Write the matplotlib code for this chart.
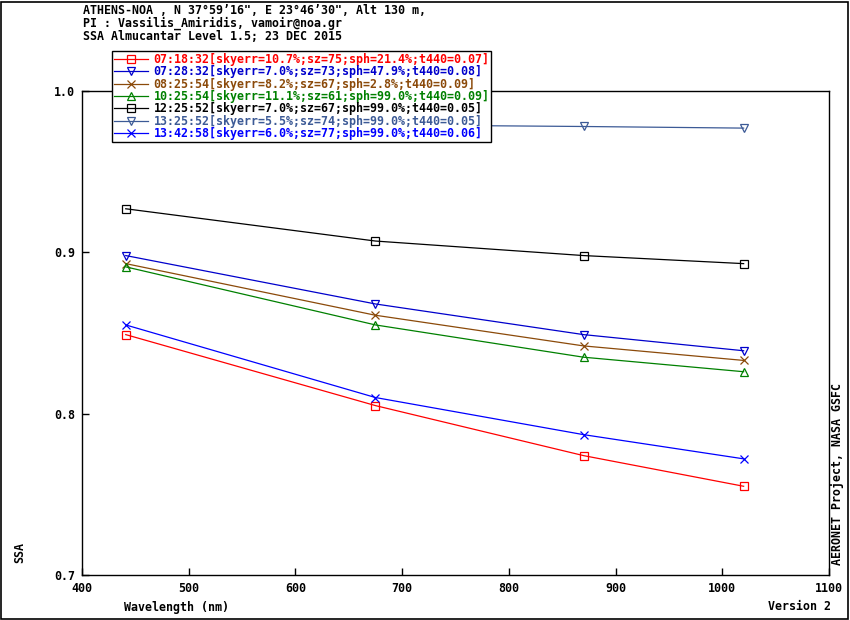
import matplotlib
matplotlib.use("Agg")
from matplotlib import pyplot as plt
from matplotlib.patches import Rectangle

plt.rcParams['font.family'] = ['DejaVu Sans Mono']
plt.rcParams['font.weight'] = 'bold'
plt.rcParams['font.size'] = 8.4

"""
Data read off the reference
"""
wavelength = [441, 675, 870, 1020]

labels = [
    "07:18:32[skyerr=10.7%;sz=75;sph=21.4%;t440=0.07]",
    "07:28:32[skyerr=7.0%;sz=73;sph=47.9%;t440=0.08]",
    "08:25:54[skyerr=8.2%;sz=67;sph=2.8%;t440=0.09]",
    "10:25:54[skyerr=11.1%;sz=61;sph=99.0%;t440=0.09]",
    "12:25:52[skyerr=7.0%;sz=67;sph=99.0%;t440=0.05]",
    "13:25:52[skyerr=5.5%;sz=74;sph=99.0%;t440=0.05]",
    "13:42:58[skyerr=6.0%;sz=77;sph=99.0%;t440=0.06]",
]

ssa_0718 = [0.849, 0.805, 0.774, 0.755]
ssa_0728 = [0.898, 0.868, 0.849, 0.839]
ssa_0825 = [0.893, 0.861, 0.842, 0.833]
ssa_1025 = [0.891, 0.855, 0.835, 0.826]
ssa_1225 = [0.927, 0.907, 0.898, 0.893]
ssa_1325 = [0.980, 0.979, 0.978, 0.977]
ssa_1342 = [0.855, 0.810, 0.787, 0.772]

series = [ssa_0718, ssa_0728, ssa_0825, ssa_1025, ssa_1225, ssa_1325, ssa_1342]
colors = ['#ff0000', '#0000cc', '#8b4a0a', '#008000', '#000000', '#3c5a96', '#0000ff']
markers = ['s', 'v', 'x', '^', 's', 'v', 'x']

"""
Plotting
"""
fig = plt.figure(figsize=(8.5, 6.2), dpi=100)
ax = fig.add_axes([82/850, 45/620, 747/850, 484/620])

for vals, lab, c, m in zip(series, labels, colors, markers):
    ax.plot(wavelength, vals, color=c, lw=0.9, marker=m, markersize=6,
            markerfacecolor='none', markeredgecolor=c, markeredgewidth=0.9,
            label=lab)

ax.set_xlim(400, 1100)
ax.set_ylim(0.7, 1.0)
ax.set_xticks(range(400, 1101, 100))
ax.set_yticks([0.7, 0.8, 0.9, 1.0])
ax.set_yticklabels(['0.7', '0.8', '0.9', '1.0'])
ax.tick_params(direction='in', length=5, width=1, top=False, right=False, pad=5)
for s in ax.spines.values():
    s.set_linewidth(1)

leg = ax.legend(loc='upper left', bbox_to_anchor=(112/850, 1 - 51/620),
                bbox_transform=fig.transFigure, borderaxespad=0,
                fancybox=False, framealpha=1, edgecolor='black',
                labelcolor='linecolor', borderpad=0.15, labelspacing=-0.05,
                handlelength=2.9, handletextpad=0.5)
leg.get_frame().set_linewidth(1)

fig.text(83/850, 1 - 10/620, 'ATHENS-NOA , N 37°59’16", E 23°46’30", Alt 130 m,', va='center')
fig.text(83/850, 1 - 23/620, 'PI : Vassilis_Amiridis, vamoir@noa.gr', va='center')
fig.text(83/850, 1 - 36/620, 'SSA Almucantar Level 1.5; 23 DEC 2015', va='center')

fig.text(124/850, 1 - 607/620, 'Wavelength (nm)', va='center')
fig.text(831/850, 1 - 607/620, 'Version 2', va='center', ha='right')
fig.text(20/850, 1 - 563/620, 'SSA', rotation=90, ha='center', va='bottom')
fig.text(837/850, 1 - 565/620, 'AERONET Project, NASA GSFC', rotation=90,
         ha='center', va='bottom')

fig.patches.append(Rectangle((0.5/850, 1.5/620), 847/850, 617/620, fill=False,
                             edgecolor='black', lw=1.2, transform=fig.transFigure))

plt.savefig('out.png', dpi=100)
